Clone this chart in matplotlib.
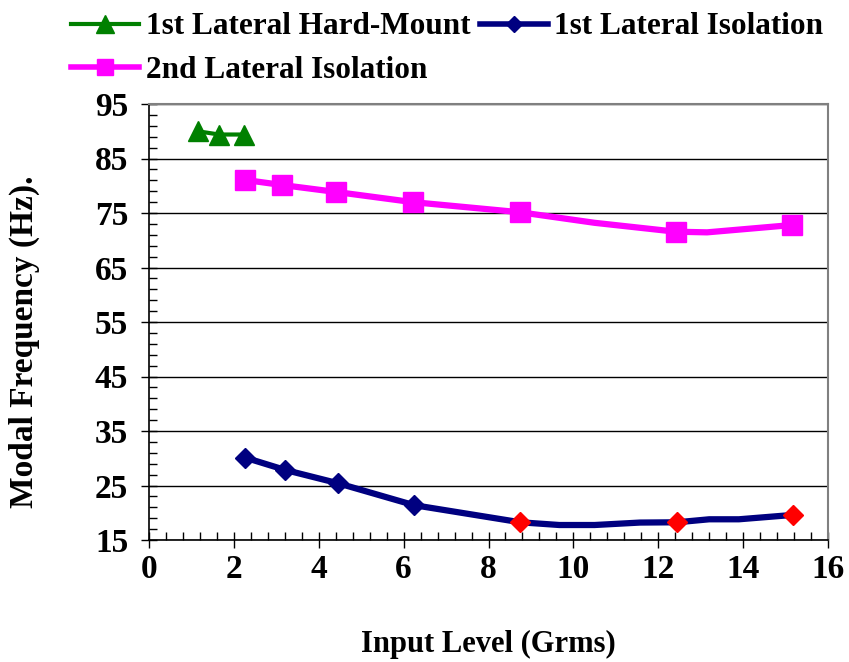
import matplotlib
matplotlib.use("Agg")
import matplotlib.pyplot as plt
from matplotlib.ticker import MultipleLocator, FixedLocator
from matplotlib.lines import Line2D
import numpy as np

plt.rcParams['font.family'] = ['Liberation Serif', 'DejaVu Serif']
plt.rcParams['font.weight'] = 'bold'

# Data
hard_x = [1.15, 1.65, 2.23]
hard_y = [90.0, 89.4, 89.4]

iso1_x = [2.27, 3.21, 4.46, 6.24, 8.75, 9.67, 10.5, 11.57, 12.44, 13.2, 13.9, 15.17]
iso1_y = [30.1, 27.85, 25.4, 21.4, 18.25, 17.75, 17.75, 18.2, 18.25, 18.8, 18.8, 19.6]
iso1_marked = [0, 1, 2, 3]

red_x = [8.75, 12.44, 15.17]
red_y = [18.25, 18.25, 19.6]

iso2_x = [2.27, 3.13, 4.41, 6.21, 8.75, 10.5, 12.41, 13.15, 15.16]
iso2_y = [81.06, 80.14, 78.86, 77.0, 75.13, 73.2, 71.57, 71.45, 72.8]
iso2_marked = [0, 1, 2, 3, 4, 6, 8]

y_ticks = [15, 25, 35, 45, 55, 65, 75, 85, 95]
x_ticks = [0, 2, 4, 6, 8, 10, 12, 14, 16]

labels = ["1st Lateral Hard-Mount", "1st Lateral Isolation", "2nd Lateral Isolation"]

fig = plt.figure(figsize=(8.49, 6.62), dpi=100)
ax = fig.add_axes([149/849, 1-540/662, (828-149)/849, (540-104)/662])

green = '#008000'
navy = '#000080'
magenta = '#FF00FF'

ax.plot(hard_x, hard_y, color=green, lw=3, marker='^', ms=15, zorder=4)
ax.plot(iso1_x, iso1_y, color=navy, lw=4.5, marker='D', ms=10,
        markevery=iso1_marked, zorder=3)
ax.plot(red_x, red_y, ls='none', marker='D', ms=10, color='#FF0000', zorder=5)
ax.plot(iso2_x, iso2_y, color=magenta, lw=4.5, marker='s', ms=14,
        markevery=iso2_marked, zorder=3)

ax.set_xlim(x_ticks[0], x_ticks[-1])
ax.set_ylim(y_ticks[0], y_ticks[-1])
ax.xaxis.set_major_locator(FixedLocator(x_ticks))
ax.xaxis.set_minor_locator(MultipleLocator(0.4))
ax.yaxis.set_major_locator(FixedLocator(y_ticks))
ax.yaxis.set_minor_locator(FixedLocator(np.arange(15, 96, 2)))
ax.tick_params(axis='both', which='major', direction='inout', length=12, width=1,
               labelsize=24)
ax.tick_params(axis='y', which='major', pad=9)
ax.tick_params(axis='x', which='major', pad=4)
ax.tick_params(axis='both', which='minor', direction='in', length=6, width=1)
ax.grid(axis='y', which='major', color='black', lw=1)
ax.set_axisbelow(True)
for s in ['top', 'right']:
    ax.spines[s].set_color('#808080')
    ax.spines[s].set_linewidth(1.5)
for s in ['left', 'bottom']:
    ax.spines[s].set_color('black')
    ax.spines[s].set_linewidth(1.2)

ax.set_xlabel("Input Level (Grms)", fontsize=22, fontweight='bold')
ax.set_ylabel("Modal Frequency (Hz).", fontsize=24, fontweight='bold')
ax.xaxis.set_label_coords((488-149)/679, (540-630)/436)
ax.yaxis.set_label_coords((40-149)/679, (540-342)/436)

h1 = Line2D([], [], color=green, lw=3, marker='^', ms=13)
h2 = Line2D([], [], color=navy, lw=4, marker='D', ms=8)
h3 = Line2D([], [], color=magenta, lw=4, marker='s', ms=12)
fig.legend([h1, h3, h2], [labels[0], labels[2], labels[1]], ncol=2,
           loc='upper left', bbox_to_anchor=(58/849, 1.0), frameon=False,
           fontsize=22.5, handlelength=2.2, handletextpad=0.2, columnspacing=0.3,
           labelspacing=0.45, borderaxespad=0.0)

fig.savefig("out.png", dpi=100)
